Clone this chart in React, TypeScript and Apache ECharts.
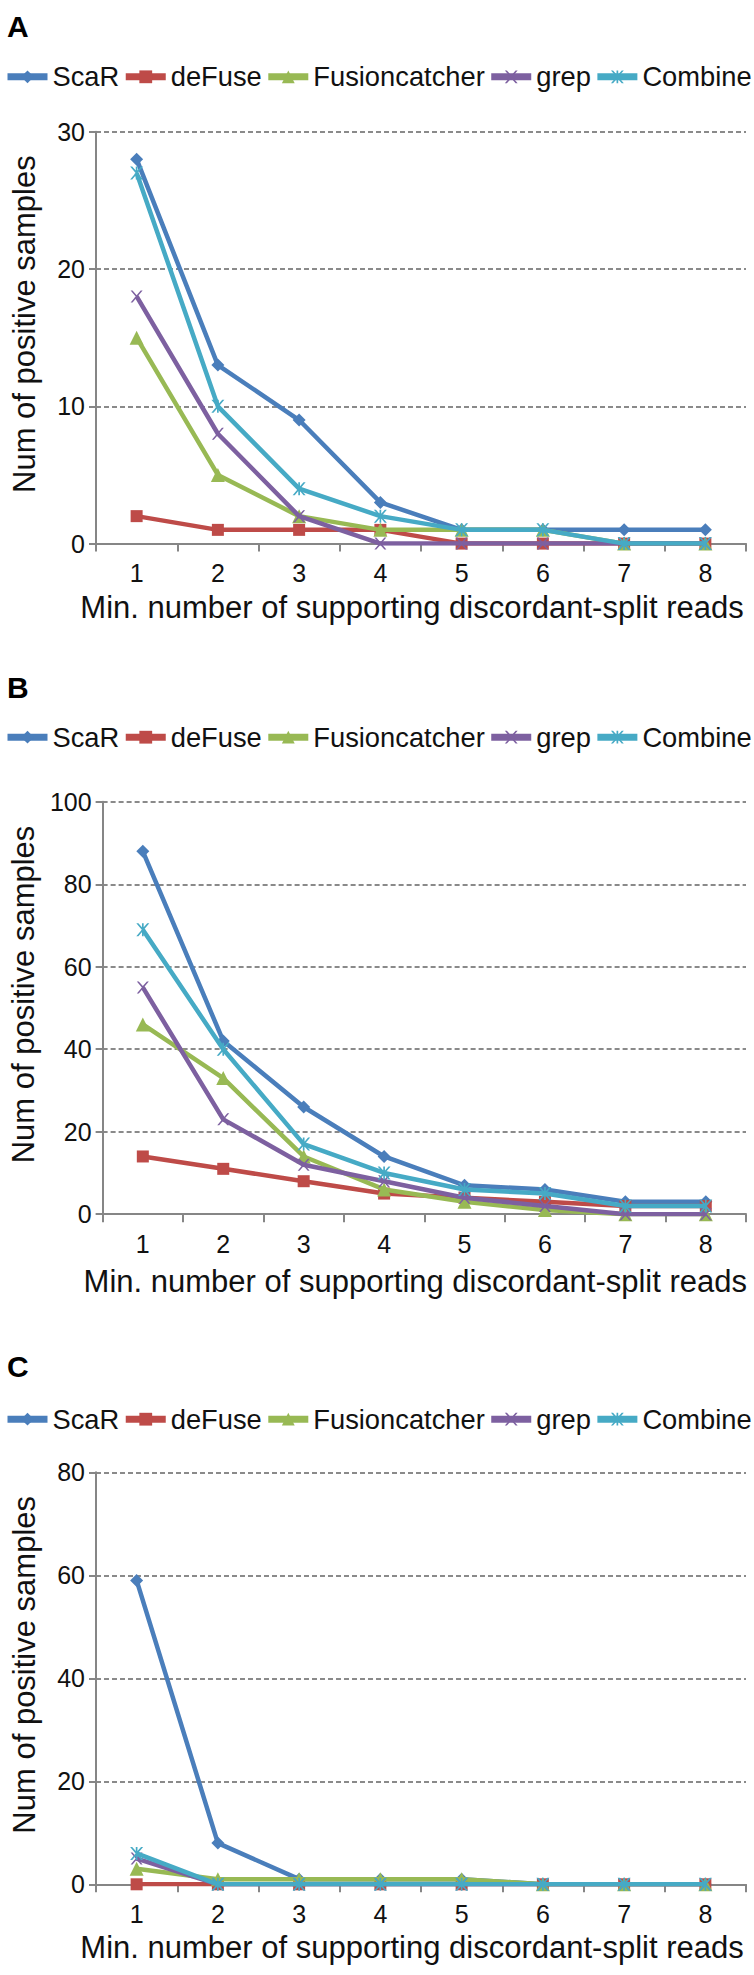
import { useEffect, useRef } from 'react';
import * as echarts from 'echarts';

const categories = ['1', '2', '3', '4', '5', '6', '7', '8'];
const seriesNames = ['ScaR', 'deFuse', 'Fusioncatcher', 'grep', 'Combine'];
const panelLabels = ['A', 'B', 'C'];
const xAxisTitle = 'Min. number of supporting discordant-split reads';
const yAxisTitle = 'Num of positive samples';

// Panel A
const aScaR = [28, 13, 9, 3, 1, 1, 1, 1];
const aDeFuse = [2, 1, 1, 1, 0, 0, 0, 0];
const aFusion = [15, 5, 2, 1, 1, 1, 0, 0];
const aGrep = [18, 8, 2, 0, 0, 0, 0, 0];
const aCombine = [27, 10, 4, 2, 1, 1, 0, 0];

// Panel B
const bScaR = [88, 42, 26, 14, 7, 6, 3, 3];
const bDeFuse = [14, 11, 8, 5, 4, 3, 2, 2];
const bFusion = [46, 33, 14, 6, 3, 1, 0, 0];
const bGrep = [55, 23, 12, 8, 4, 2, 0, 0];
const bCombine = [69, 40, 17, 10, 6, 5, 2, 2];

// Panel C
const cScaR = [59, 8, 1, 1, 1, 0, 0, 0];
const cDeFuse = [0, 0, 0, 0, 0, 0, 0, 0];
const cFusion = [3, 1, 1, 1, 1, 0, 0, 0];
const cGrep = [5, 0, 0, 0, 0, 0, 0, 0];
const cCombine = [6, 0, 0, 0, 0, 0, 0, 0];

const yMax = [30, 100, 80];
const yStep = [10, 20, 20];

const colors = ['#4A7EBB', '#BE4B48', '#98B954', '#7D60A0', '#46AAC5'];

const X_RAW = 'M0,0 L1.6,0 L5,3.9 L8.4,0 L10,0 L5.8,5 L10,10 L8.4,10 L5,6.1 L1.6,10 L0,10 L4.2,5 Z';
const STAR_RAW = X_RAW + ' M4.35,0 L5.65,0 L5.65,10 L4.35,10 Z';
const symbols = ['diamond', 'rect', 'triangle', 'path://' + X_RAW, 'path://' + STAR_RAW];
const symbolSizes = [13, 12, 14, 12, 13];

const FONT = 'Liberation Sans, Arial, Helvetica, sans-serif';

// layout (pixels)
const gridTops = [131.7, 801.8, 1472.3];
const gridHeights = [411.9, 412.4, 412];
const labelYs = [26.7, 687, 1366.7];
const legendCenters = [77.3, 737.7, 1419.7];
const xNameGaps = [48, 52, 48];

export default function App() {
  const ref = useRef<HTMLDivElement>(null);

  useEffect(() => {
    if (!ref.current) return;
    const chart = echarts.init(ref.current, undefined, { renderer: 'svg' });
    const panels = [
      [aScaR, aDeFuse, aFusion, aGrep, aCombine],
      [bScaR, bDeFuse, bFusion, bGrep, bCombine],
      [cScaR, cDeFuse, cFusion, cGrep, cCombine],
    ];

    const grids = gridTops.map((t, i) => ({
      left: 96,
      width: 650,
      top: t,
      height: gridHeights[i],
    }));

    const xAxes = panels.map((_, i) => ({
      type: 'category',
      gridIndex: i,
      data: categories,
      boundaryGap: true,
      axisLine: { show: true, lineStyle: { color: '#868686', width: 2 } },
      axisTick: { show: true, length: 8, lineStyle: { color: '#868686', width: 2 } },
      axisLabel: { fontSize: 25, color: '#111', margin: 17, fontFamily: FONT },
      name: xAxisTitle,
      nameLocation: 'middle',
      nameGap: xNameGaps[i],
      nameTextStyle: { fontSize: 31, color: '#111', fontFamily: FONT, padding: [0, 18, 0, 0] },
    }));

    const yAxes = panels.map((_, i) => ({
      type: 'value',
      gridIndex: i,
      min: 0,
      max: yMax[i],
      interval: yStep[i],
      axisLine: { show: true, lineStyle: { color: '#868686', width: 2 } },
      axisTick: { show: true, length: 7, lineStyle: { color: '#868686', width: 2 } },
      axisLabel: { fontSize: 25, color: '#111', margin: 11, fontFamily: FONT },
      splitLine: { show: true, lineStyle: { color: '#8a8a8a', width: 2, type: [5, 3] } },
      name: yAxisTitle,
      nameLocation: 'middle',
      nameGap: 56,
      nameTextStyle: { fontSize: 31, color: '#111', fontFamily: FONT, padding: [0, 0, 0, 27] },
    }));

    const series: any[] = [];
    panels.forEach((vals, p) => {
      vals.forEach((arr, s) => {
        series.push({
          type: 'line',
          name: seriesNames[s],
          xAxisIndex: p,
          yAxisIndex: p,
          data: arr,
          z: 3 + s,
          symbol: symbols[s],
          symbolSize: symbolSizes[s],
          showSymbol: true,
          showAllSymbol: true,
          lineStyle: { color: colors[s], width: 4.5 },
          itemStyle: { color: colors[s], borderWidth: 0 },
          emphasis: { disabled: true },
        });
      });
    });

    const legends = legendCenters.map((c) => ({
      left: 4,
      top: c - 14,
      width: 800,
      padding: 0,
      orient: 'horizontal',
      itemWidth: 40,
      itemHeight: 16,
      itemGap: 3,
      data: seriesNames,
      textStyle: { fontSize: 27.3, color: '#111', fontFamily: FONT },
      lineStyle: { width: 7 },
      selectedMode: false,
    }));

    const graphics = panelLabels.map((t, i) => ({
      type: 'text',
      x: 7,
      y: labelYs[i],
      style: {
        text: t,
        fill: '#000',
        font: 'bold 30px ' + FONT,
        verticalAlign: 'middle',
      },
    }));

    chart.setOption({
      animation: false,
      backgroundColor: '#fff',
      color: colors,
      grid: grids,
      xAxis: xAxes,
      yAxis: yAxes,
      legend: legends,
      series,
      graphic: graphics,
    });

    return () => chart.dispose();
  }, []);

  return (
    <div
      ref={ref}
      style={{ position: 'absolute', left: 0, top: 0, width: 754, height: 1975, background: '#fff' }}
    />
  );
}
